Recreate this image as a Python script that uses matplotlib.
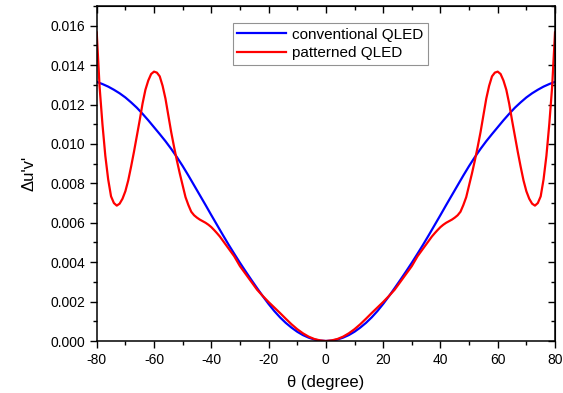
import numpy as np
import matplotlib
matplotlib.use("Agg")
import matplotlib.pyplot as plt
from matplotlib.ticker import MultipleLocator

# positive-side angles and values (curves are symmetric about 0)
theta_conv = [0, 2, 4, 6, 8, 10, 12, 14, 16, 18, 20, 22, 24, 26, 28, 30, 32, 34, 36,
              38, 40, 42, 44, 46, 48, 50, 52, 54, 56, 58, 60, 62, 64, 66, 68, 70, 72,
              74, 76, 78, 80]
conv = [0.0, 0.00002, 0.000075, 0.00017, 0.0003, 0.00047, 0.00068, 0.00092, 0.0012,
        0.00152, 0.00188, 0.00227, 0.00268, 0.0031, 0.00353, 0.00397, 0.00443,
        0.0049, 0.00539, 0.00589, 0.00639, 0.0069, 0.0074, 0.0079, 0.0084,
        0.00888, 0.00933, 0.00975, 0.01014, 0.0105, 0.01085, 0.0112, 0.01153,
        0.01184, 0.01211, 0.01236, 0.01257, 0.01275, 0.01291, 0.01304, 0.01315]

theta_pat = [0, 2, 4, 6, 8, 10, 12, 14, 16, 18, 20, 22, 24, 26, 28, 30, 32, 34, 35,
             36, 37, 38, 39, 40, 41, 42, 43, 44, 45, 46, 47, 48, 49, 50, 51, 52, 53,
             54, 55, 56, 57, 58, 59, 60, 61, 62, 63, 64, 65, 66, 67, 68, 69, 70, 71,
             72, 73, 74, 75, 76, 77, 78, 79, 80]
pat = [0.0, 0.00003, 0.0001, 0.00022, 0.00039, 0.0006, 0.00085, 0.00113, 0.00142,
       0.00170, 0.00198, 0.00228, 0.0026, 0.0030, 0.0034, 0.0038, 0.0043, 0.0047,
       0.0049, 0.0051, 0.0053, 0.00547, 0.00563, 0.00578, 0.0059, 0.00600, 0.00608,
       0.00616, 0.00626, 0.00638, 0.00656, 0.0069, 0.0073, 0.0079, 0.0085, 0.00915,
       0.00985, 0.0106, 0.01145, 0.0123, 0.01295, 0.01343, 0.01362, 0.01367,
       0.01355, 0.01322, 0.01275, 0.01205, 0.0112, 0.0104, 0.0096, 0.00885,
       0.00815, 0.0076, 0.00722, 0.00697, 0.00687, 0.007, 0.00734, 0.0082, 0.0094,
       0.0110, 0.0129, 0.01566]

def mirror(t, v):
    t = np.asarray(t, float); v = np.asarray(v, float)
    return np.concatenate([-t[:0:-1], t]), np.concatenate([v[:0:-1], v])

tc, vc = mirror(theta_conv, conv)
tp, vp = mirror(theta_pat, pat)

plt.rcParams['font.family'] = ['Liberation Sans', 'DejaVu Sans']
plt.rcParams['axes.unicode_minus'] = False
fig = plt.figure(figsize=(5.63, 3.93), dpi=100)
ax = fig.add_axes([0.1718, 0.1323, 0.8140, 0.8524])

ax.plot(tc, vc, color='#0000ff', lw=1.6, label='conventional QLED', solid_joinstyle='round')
ax.plot(tp, vp, color='#ff0000', lw=1.6, label='patterned QLED', solid_joinstyle='round')

ax.set_xlim(-80, 80)
ax.set_ylim(0, 0.017)
ax.xaxis.set_major_locator(MultipleLocator(20))
ax.xaxis.set_minor_locator(MultipleLocator(10))
ax.yaxis.set_major_locator(MultipleLocator(0.002))
ax.yaxis.set_minor_locator(MultipleLocator(0.001))
ax.yaxis.set_major_formatter(plt.FormatStrFormatter('%.3f'))
ax.tick_params(which='major', direction='out', length=5, width=1, labelsize=10)
ax.tick_params(which='minor', direction='out', length=3, width=1)

# mirrored inward ticks on top/right
ax2 = ax.secondary_xaxis('top')
ax2.xaxis.set_major_locator(MultipleLocator(20))
ax2.xaxis.set_minor_locator(MultipleLocator(10))
ax2.tick_params(which='major', direction='in', length=5, width=1, labeltop=False)
ax2.tick_params(which='minor', direction='in', length=3, width=1)
ax3 = ax.secondary_yaxis('right')
ax3.yaxis.set_major_locator(MultipleLocator(0.002))
ax3.yaxis.set_minor_locator(MultipleLocator(0.001))
ax3.tick_params(which='major', direction='in', length=5, width=1, labelright=False)
ax3.tick_params(which='minor', direction='in', length=3, width=1)

for s in ax.spines.values():
    s.set_linewidth(1.1)

ax.set_xlabel('θ (degree)', fontsize=12, labelpad=6)
ax.set_ylabel("Δu'v'", fontsize=12, labelpad=10)

leg = ax.legend(loc='upper left', bbox_to_anchor=(0.297, 0.949), fontsize=11,
                frameon=True, fancybox=False, handlelength=3.2, borderpad=0.3,
                labelspacing=0.3, handletextpad=0.4, borderaxespad=0)
leg.get_frame().set_edgecolor('#777777')
leg.get_frame().set_linewidth(0.8)

fig.savefig('out.png', dpi=100)
